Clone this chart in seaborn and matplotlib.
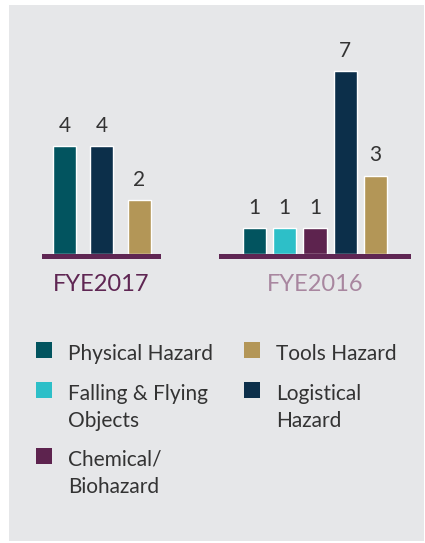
import matplotlib
matplotlib.use("Agg")
import matplotlib.pyplot as plt
from matplotlib.patches import Rectangle
import seaborn as sns
import pandas as pd

# Incident counts by hazard type
hazards_2017 = ["Physical Hazard", "Logistical Hazard", "Tools Hazard"]
counts_2017 = [4, 4, 2]
hazards_2016 = ["Physical Hazard", "Falling & Flying Objects", "Chemical/Biohazard",
                "Logistical Hazard", "Tools Hazard"]
counts_2016 = [1, 1, 1, 7, 3]
year_labels = ["FYE2017", "FYE2016"]

palette = {
    "Physical Hazard": "#02545F",
    "Falling & Flying Objects": "#2DBFC8",
    "Chemical/Biohazard": "#5D234E",
    "Logistical Hazard": "#0C2F4A",
    "Tools Hazard": "#B39657",
}
legend_lines = {
    "Physical Hazard": ["Physical Hazard"],
    "Falling & Flying Objects": ["Falling & Flying", "Objects"],
    "Chemical/Biohazard": ["Chemical/", "Biohazard"],
    "Logistical Hazard": ["Logistical", "Hazard"],
    "Tools Hazard": ["Tools Hazard"],
}

sns.set_theme(style="white")
plt.rcParams["font.family"] = ["Lato", "DejaVu Sans"]

W, H = 425, 543
fig = plt.figure(figsize=(W / 100, H / 100), dpi=100)
fig.patch.set_facecolor("white")
fig.add_artist(Rectangle((9 / W, 2 / H), 415 / W, 536 / H, transform=fig.transFigure,
                         facecolor="#E6E7E9", edgecolor="none", zorder=0))

base_color = "#5F2653"
num_color = "#333333"
AX_BOTTOM = 259   # pixel row of the bottom of the base strip
AX_HEIGHT = 213
STRIP = 5         # base strip thickness in pixels


def draw_group(left, width_px, cats, vals, bar_width, xlim, px_per_unit,
               title, title_color):
    ax = fig.add_axes([left / W, (H - AX_BOTTOM) / H, width_px / W, AX_HEIGHT / H])
    df = pd.DataFrame({"hazard": cats, "count": vals})
    sns.barplot(data=df, x="hazard", y="count", hue="hazard", order=cats,
                hue_order=cats, palette=palette, width=bar_width, saturation=1,
                dodge=False, legend=False, ax=ax)
    depth = STRIP / px_per_unit
    ax.axhspan(-depth, 0, color=base_color, zorder=3, lw=0)
    for i, v in enumerate(vals):
        ax.annotate(str(v), (i, v), xytext=(0, 10.3), textcoords="offset points",
                    ha="center", va="baseline", fontsize=15, color=num_color)
    ax.set_xlim(*xlim)
    ax.set_ylim(-depth, AX_HEIGHT / px_per_unit - depth)
    ax.axis("off")
    ax.text(0.5, -32 / AX_HEIGHT, title, transform=ax.transAxes, ha="center",
            va="baseline", fontsize=17, color=title_color)
    return ax


draw_group(42, 119, hazards_2017, counts_2017, 0.61, (-0.6, 2.58), 27.0,
           year_labels[0], "#5F2653")
draw_group(219, 192, hazards_2016, counts_2016, 0.76, (-1.17, 5.17), 26.1,
           year_labels[1], "#A8869F")

# Legend in two columns, swatch aligned with the first text line
legend_order = [["Physical Hazard", "Falling & Flying Objects", "Chemical/Biohazard"],
                ["Tools Hazard", "Logistical Hazard"]]
col_x = [36, 244]
row_y = [342, 382, 448]
line_gap = 27
for c, col in enumerate(legend_order):
    for r, name in enumerate(col):
        x, y = col_x[c], row_y[r]
        fig.add_artist(Rectangle((x / W, (H - y - 16) / H), 16 / W, 16 / H,
                                 transform=fig.transFigure, facecolor=palette[name],
                                 edgecolor="none"))
        for k, line in enumerate(legend_lines[name]):
            fig.text((x + 32) / W, (H - y - 18 - k * line_gap) / H, line,
                     ha="left", va="baseline", fontsize=15, color=num_color)

fig.savefig("out.png", dpi=100)
